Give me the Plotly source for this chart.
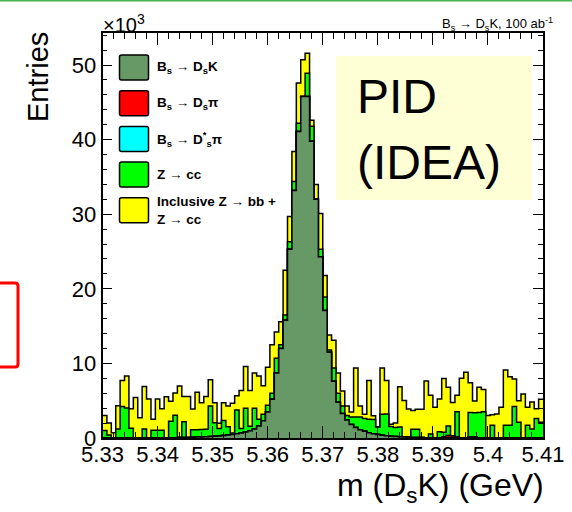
import numpy as np
import plotly.graph_objects as go

# ---- binning: 100 bins between 5.33 and 5.41 GeV ----
x_min, x_max, n_bins = 5.33, 5.41, 100
edges = np.linspace(x_min, x_max, n_bins + 1)

# ---- per-component bin contents (x10^3 entries), stacked bottom -> top ----
bs_dsk = [
    0.01, 0.01, 0.01, 0.01, 0.01, 0.01, 0.02, 0.02, 0.02, 0.02,
    0.02, 0.03, 0.03, 0.03, 0.04, 0.04, 0.05, 0.06, 0.07, 0.08,
    0.10, 0.12, 0.14, 0.17, 0.20, 0.24, 0.28, 0.33, 0.40, 0.47,
    0.56, 0.66, 0.80, 0.98, 1.20, 1.60, 2.30, 3.50, 5.20, 8.70,
    12.0, 15.8, 25.3, 33.2, 41.1, 45.8, 45.8, 39.8, 32.0, 24.3,
    17.1, 11.5, 7.6, 4.8, 3.3, 2.4, 1.8, 1.4, 1.1, 0.9,
    0.72, 0.58, 0.47, 0.38, 0.31, 0.25, 0.20, 0.16, 0.13, 0.10,
    0.08, 0.07, 0.06, 0.05, 0.04, 0.035, 0.03, 0.025, 0.02, 0.02,
    0.02, 0.02, 0.02, 0.02, 0.02, 0.01, 0.01, 0.01, 0.01, 0.01,
    0.01, 0.01, 0.01, 0.01, 0.01, 0.01, 0.01, 0.01, 0.01, 0.01,
]
bs_dspi = [0.0] * 77 + [0.15, 0.30, 0.25, 0.10, 0.0, 0.0, 0.10, 0.15] + [0.0] * 15
bs_dstarpi = [0.0] * 100
z_cc = [
    1.0, 0.4, 0.0, 1.2, 4.2, 4.0, 1.3, 0.0, 0.0, 1.2,
    0.0, 1.0, 1.0, 1.0, 0.0, 2.2, 3.0, 0.0, 2.1, 0.0,
    1.0, 1.0, 1.0, 1.0, 4.1, 1.8, 1.0, 2.0, 1.1, 0.2,
    3.2, 0.6, 3.2, 0.6, 2.8, 0.9, 0.9, 0.9, 0.8, 2.0,
    0.5, 0.7, 1.0, 1.2, 1.1, 0.0, 3.1, 2.0, 0.0, 1.0,
    1.8, 0.3, 1.8, 1.2, 1.0, 0.6, 1.0, 1.4, 1.7, 1.7,
    1.8, 1.9, 1.0, 2.8, 2.9, 1.3, 1.2, 1.3, 0.0, 0.0,
    1.1, 1.1, 0.0, 0.0, 0.5, 0.0, 0.8, 0.6, 1.3, 0.0,
    3.4, 0.0, 0.0, 3.3, 3.2, 3.4, 3.5, 0.0, 1.7, 0.0,
    0.0, 1.7, 1.7, 4.2, 2.1, 0.0, 1.7, 1.2, 2.6, 2.1,
]
incl_bb_cc = [
    2.0, 1.6, 0.7, 3.1, 3.5, 4.3, 2.6, 5.4, 2.7, 5.7,
    5.2, 1.5, 4.2, 2.9, 5.5, 2.7, 3.0, 6.9, 3.4, 5.5,
    2.8, 5.0, 3.6, 4.4, 3.5, 2.7, 0.7, 2.4, 2.8, 4.0,
    1.9, 5.1, 5.6, 4.8, 4.7, 5.8, 3.8, 5.1, 6.5, 3.5,
    3.1, 6.0, 3.4, 4.0, 5.4, 4.9, 2.7, 0.8, 2.0, 4.8,
    2.9, 2.0, 3.7, 2.7, 2.0, 1.3, 0.7, 6.6, 1.5, 0.6,
    5.2, 0.5, 0.0, 6.2, 4.5, 0.3, 0.6, 5.4, 4.9, 3.8,
    2.5, 2.7, 3.8, 7.6, 5.2, 4.1, 4.4, 7.2, 5.2, 4.5,
    2.2, 8.0, 8.8, 4.0, 1.6, 3.4, 3.0, 3.0, 1.4, 3.2,
    4.1, 7.4, 6.5, 3.7, 2.9, 5.9, 2.4, 3.6, 1.3, 3.1,
]

components = [
    ("B<sub>s</sub> \u2192 D<sub>s</sub>K", bs_dsk, "#669966"),
    ("B<sub>s</sub> \u2192 D<sub>s</sub>\u03c0", bs_dspi, "#ff0000"),
    ("B<sub>s</sub> \u2192 D<sup>*</sup><sub>s</sub>\u03c0", bs_dstarpi, "#00ffff"),
    ("Z \u2192 cc", z_cc, "#00ff00"),
    ("Inclusive Z \u2192 bb +<br>Z \u2192 cc", incl_bb_cc, "#ffff00"),
]

W, H = 572, 512
FRAME_L, FRAME_R, FRAME_T, FRAME_B = 102.5, 543.0, 33.0, 438.0
Y_MAX = 54.3
FONT = "Liberation Sans, Arial, Helvetica, sans-serif"


def px(x):
    return x / W


def py(y):
    return 1 - y / H


def rounded_rect(x0, y0, x1, y1, r):
    """SVG path (paper coords) for a rectangle with rounded corners, input in pixels."""
    pts = [
        f"M {px(x0 + r)} {py(y0)}", f"L {px(x1 - r)} {py(y0)}",
        f"Q {px(x1)} {py(y0)} {px(x1)} {py(y0 + r)}", f"L {px(x1)} {py(y1 - r)}",
        f"Q {px(x1)} {py(y1)} {px(x1 - r)} {py(y1)}", f"L {px(x0 + r)} {py(y1)}",
        f"Q {px(x0)} {py(y1)} {px(x0)} {py(y1 - r)}", f"L {px(x0)} {py(y0 + r)}",
        f"Q {px(x0)} {py(y0)} {px(x0 + r)} {py(y0)}", "Z",
    ]
    return " ".join(pts)


fig = go.Figure()

# cumulative stack; draw the top-most level first so lower levels cover it
stack = np.cumsum(np.array([c[1] for c in components]), axis=0)
for (name, _, color), level in reversed(list(zip(components, stack))):
    yv = np.append(level, level[-1])
    fig.add_trace(go.Scatter(
        x=edges, y=yv, mode="lines", line_shape="hv",
        line=dict(color="black", width=1.5),
        fill="tozeroy", fillcolor=color, name=name,
        showlegend=False, hoverinfo="skip",
    ))

shapes = []
annotations = []

# legend: coloured boxes with labels
box_top = 55.0
for i, (name, _, color) in enumerate(components):
    top = box_top + i * 35.7
    shapes.append(dict(type="path", xref="paper", yref="paper",
                       path=rounded_rect(119.5, top, 148.5, top + 25, 2),
                       fillcolor=color, line=dict(color="black", width=1.5)))
    annotations.append(dict(xref="paper", yref="paper", x=px(155), y=py(top + 12.5),
                            xanchor="left", yanchor="middle", align="left",
                            text="<b>" + name + "</b>", showarrow=False,
                            font=dict(family=FONT, size=13.5, color="black")))

# PID (IDEA) box
shapes.append(dict(type="rect", xref="paper", yref="paper", layer="above",
                   x0=px(336), x1=px(532), y0=py(200), y1=py(56),
                   fillcolor="#ffffd5", line=dict(width=0)))
annotations.append(dict(xref="paper", yref="paper", x=px(355), y=py(96),
                        xanchor="left", yanchor="middle", text="PID", showarrow=False,
                        font=dict(family=FONT, size=48, color="black")))
annotations.append(dict(xref="paper", yref="paper", x=px(355), y=py(162),
                        xanchor="left", yanchor="middle", text="(IDEA)", showarrow=False,
                        font=dict(family=FONT, size=48, color="black")))

# red outline at the left edge
shapes.append(dict(type="path", xref="paper", yref="paper",
                   path=rounded_rect(-12, 283, 18, 367, 3),
                   line=dict(color="#ff0000", width=3)))
# thin green rule along the top
shapes.append(dict(type="line", xref="paper", yref="paper",
                   x0=0, x1=1, y0=py(0.8), y1=py(0.8),
                   line=dict(color="#4caf50", width=1.6)))

# axis decorations
annotations.append(dict(xref="paper", yref="paper", x=px(101), y=py(23),
                        xanchor="left", yanchor="middle",
                        text="\u00d710<sup>3</sup>", showarrow=False,
                        font=dict(family=FONT, size=20, color="black")))
annotations.append(dict(xref="paper", yref="paper", x=px(555), y=py(24),
                        xanchor="right", yanchor="middle",
                        text="B<sub>s</sub> \u2192 D<sub>s</sub>K, 100 ab<sup>-1</sup>",
                        showarrow=False, font=dict(family=FONT, size=13, color="black")))
annotations.append(dict(xref="paper", yref="paper", x=px(38), y=py(30),
                        xanchor="center", yanchor="top", textangle=-90,
                        text="Entries", showarrow=False,
                        font=dict(family=FONT, size=29, color="black")))
annotations.append(dict(xref="paper", yref="paper", x=px(546), y=py(487),
                        xanchor="right", yanchor="middle",
                        text="m (D<sub>s</sub>K) (GeV)", showarrow=False,
                        font=dict(family=FONT, size=32, color="black")))

axis_common = dict(showline=True, linecolor="black", linewidth=1.5, mirror="allticks",
                   ticks="inside", tickcolor="black", tickwidth=1, showgrid=False,
                   zeroline=False, automargin=False,
                   tickfont=dict(family=FONT, size=22, color="black"))

fig.update_layout(
    width=W, height=H,
    margin=dict(l=0, r=0, t=0, b=0),
    paper_bgcolor="white", plot_bgcolor="white",
    showlegend=False,
    xaxis=dict(range=[x_min, x_max], domain=[px(FRAME_L), px(FRAME_R)],
               dtick=0.01, tick0=5.33, ticklen=12, ticklabelstandoff=-4,
               minor=dict(ticks="inside", dtick=0.002, ticklen=6, tickcolor="black", tickwidth=1),
               **axis_common),
    yaxis=dict(range=[0, Y_MAX], domain=[py(FRAME_B), py(FRAME_T)],
               dtick=10, ticklen=10,
               minor=dict(ticks="inside", dtick=2, ticklen=5, tickcolor="black", tickwidth=1),
               **axis_common),
    shapes=shapes,
    annotations=annotations,
)

fig.write_html("out.html")
